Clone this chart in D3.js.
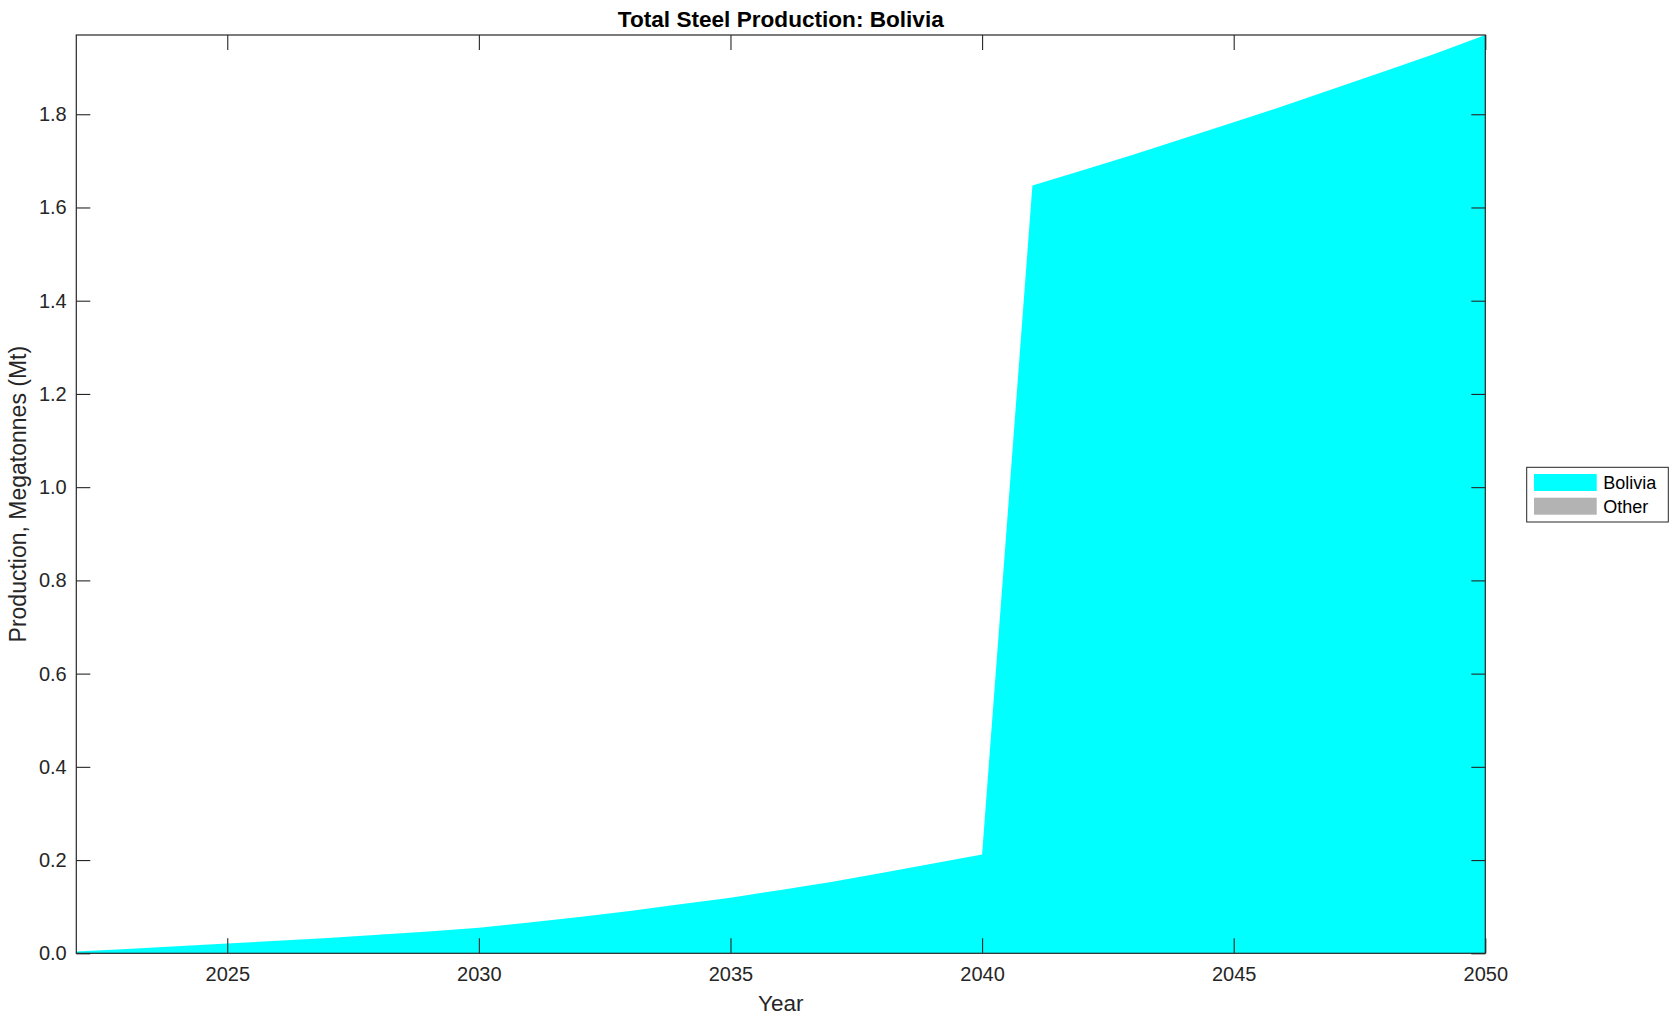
<!DOCTYPE html>
<html>
<head>
<meta charset="utf-8">
<script src="https://cdn.jsdelivr.net/npm/d3@7"></script>
<style>
  body { margin: 0; background: #fff; }
  text { font-family: "Liberation Sans", Arial, Helvetica, sans-serif; fill: #262626; }
</style>
</head>
<body>
<div id="chart"></div>
<script>
// data (Mt)
var years = [2022, 2023, 2024, 2025, 2026, 2027, 2028, 2029, 2030, 2031, 2032, 2033, 2034, 2035,
             2036, 2037, 2038, 2039, 2040, 2041, 2042, 2043, 2044, 2045, 2046, 2047, 2048, 2049, 2050];
var bolivia = [0.004, 0.009, 0.015, 0.021, 0.027, 0.033, 0.040, 0.047, 0.055, 0.066, 0.078, 0.091, 0.105, 0.119,
               0.136, 0.153, 0.172, 0.192, 0.212, 1.647, 1.680, 1.713, 1.748, 1.783, 1.818, 1.855, 1.892, 1.930, 1.970];
var other = [0, 0, 0, 0, 0, 0, 0, 0, 0, 0, 0, 0, 0, 0,
             0, 0, 0, 0, 0, 0, 0, 0, 0, 0, 0, 0, 0, 0, 0];
var seriesNames = ["Bolivia", "Other"];
var seriesColors = ["#00ffff", "#b3b3b3"];
var xTicks = [2025, 2030, 2035, 2040, 2045, 2050];
var yTicks = [0, 0.2, 0.4, 0.6, 0.8, 1.0, 1.2, 1.4, 1.6, 1.8];

var W = 1679, H = 1021;
var plotL = 76.3, plotR = 1485.3, plotT = 35, plotB = 953.3;

var rows = years.map(function(y, i) {
  return {year: y, Bolivia: bolivia[i], Other: other[i]};
});

var stack = d3.stack().keys(seriesNames);
var layers = stack(rows);

var x = d3.scaleLinear().domain([2022, 2050]).range([plotL, plotR]);
var y = d3.scaleLinear().domain([0, 1.97]).range([plotB, plotT]);
var color = d3.scaleOrdinal().domain(seriesNames).range(seriesColors);

var svg = d3.select("#chart").append("svg")
  .attr("width", W)
  .attr("height", H);

var area = d3.area()
  .x(function(d) { return x(d.data.year); })
  .y0(function(d) { return y(d[0]); })
  .y1(function(d) { return y(d[1]); });

svg.append("g").selectAll("path")
  .data(layers).enter()
  .append("path")
  .attr("d", area)
  .attr("fill", function(d) { return color(d.key); })
  .attr("stroke", "none");

// axes, ticks pointing inward on all four sides
var xAxis = d3.axisBottom(x).tickValues(xTicks).tickFormat(d3.format("d"))
  .tickSize(-15).tickPadding(13.5);
var xTop = d3.axisTop(x).tickValues(xTicks).tickFormat("").tickSize(-15);
var yAxis = d3.axisLeft(y).tickValues(yTicks).tickFormat(d3.format(".1f"))
  .tickSize(-14).tickPadding(9.6);
var yRight = d3.axisRight(y).tickValues(yTicks).tickFormat("").tickSize(-14);

function styleAxis(g) {
  g.select(".domain").remove();
  g.selectAll("line").attr("stroke", "#262626").attr("stroke-width", 1.1);
  g.selectAll("text").style("font-size", "20px").attr("fill", "#262626");
}

svg.append("g").attr("transform", "translate(0," + plotB + ")").call(xAxis).call(styleAxis);
svg.append("g").attr("transform", "translate(0," + plotT + ")").call(xTop).call(styleAxis);
svg.append("g").attr("transform", "translate(" + plotL + ",0)").call(yAxis).call(styleAxis);
svg.append("g").attr("transform", "translate(" + plotR + ",0)").call(yRight).call(styleAxis);

svg.append("rect")
  .attr("x", plotL).attr("y", plotT)
  .attr("width", plotR - plotL).attr("height", plotB - plotT)
  .attr("fill", "none")
  .attr("stroke", "#262626")
  .attr("stroke-width", 1.2);

svg.append("text")
  .attr("x", (plotL + plotR) / 2)
  .attr("y", 27)
  .attr("text-anchor", "middle")
  .style("font-size", "22.6px")
  .style("font-weight", "bold")
  .style("fill", "#000")
  .text("Total Steel Production: Bolivia");

svg.append("text")
  .attr("x", (plotL + plotR) / 2)
  .attr("y", 1011)
  .attr("text-anchor", "middle")
  .style("font-size", "22.5px")
  .text("Year");

svg.append("text")
  .attr("transform", "translate(26," + ((plotT + plotB) / 2) + ") rotate(-90)")
  .attr("text-anchor", "middle")
  .style("font-size", "23px")
  .text("Production, Megatonnes (Mt)");

// legend
var lg = svg.append("g");
lg.append("rect")
  .attr("x", 1526.7).attr("y", 467.3)
  .attr("width", 141.6).attr("height", 54.7)
  .attr("fill", "#fff")
  .attr("stroke", "#262626")
  .attr("stroke-width", 1);

var items = lg.selectAll("g.item")
  .data(seriesNames).enter()
  .append("g")
  .attr("class", "item")
  .attr("transform", function(d, i) { return "translate(0," + (474 + i * 23.7) + ")"; });

items.append("rect")
  .attr("x", 1534).attr("y", 0)
  .attr("width", 62.7).attr("height", 17)
  .attr("fill", function(d) { return color(d); });

items.append("text")
  .attr("x", 1603.3).attr("y", 8.5)
  .attr("dy", "0.35em")
  .style("font-size", "18px")
  .style("fill", "#000")
  .text(function(d) { return d; });
</script>
</body>
</html>
